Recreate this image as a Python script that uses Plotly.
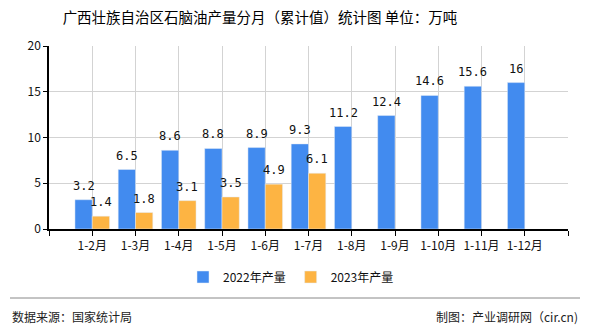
import plotly.graph_objects as go

categories = ["1-2月", "1-3月", "1-4月", "1-5月", "1-6月", "1-7月",
              "1-8月", "1-9月", "1-10月", "1-11月", "1-12月"]
values_2022 = [3.2, 6.5, 8.6, 8.8, 8.9, 9.3, 11.2, 12.4, 14.6, 15.6, 16]
values_2023 = [1.4, 1.8, 3.1, 3.5, 4.9, 6.1]
series_names = ["2022年产量", "2023年产量"]
y_ticks = [0, 5, 10, 15, 20]

title = "广西壮族自治区石脑油产量分月（累计值）统计图 单位：万吨"
source = "数据来源：国家统计局"
credit = "制图：产业调研网（cir.cn)"

W, H = 590, 330
L, R, T, B = 49, 568, 46, 229
pw, ph = R - L, B - T


def px(x):
    return (x - L) / pw


def py(y):
    return (B - y) / ph


pos = list(range(1, len(categories) + 1))
tickvals = list(range(0, len(categories) + 2))
ticktext = [""] + categories + [""]

blue = "#428bef"
orange = "#fdb443"
label_font = dict(family="DejaVu Sans Mono, monospace", size=12, color="#111")
bar_w = 0.4

fig = go.Figure()
fig.add_trace(go.Bar(
    x=pos, y=values_2022, name=series_names[0], marker_color=blue,
    width=bar_w, offset=-bar_w,
))
fig.add_trace(go.Bar(
    x=pos[:len(values_2023)], y=values_2023, name=series_names[1], marker_color=orange,
    width=bar_w, offset=0,
))

for xs, vals, off in [(pos, values_2022, -bar_w / 2), (pos, values_2023, bar_w / 2)]:
    for x, v in zip(xs, vals):
        fig.add_annotation(x=x + off, y=v, text=f"{v:g}", showarrow=False,
                           xanchor="center", yanchor="bottom", yshift=5,
                           font=label_font)

fig.update_layout(
    width=W, height=H,
    margin=dict(l=L, r=W - R, t=T, b=H - B, pad=0),
    paper_bgcolor="white", plot_bgcolor="white",
    barmode="overlay",
    font=dict(family="Noto Sans CJK SC, sans-serif", size=12, color="#111"),
    title=dict(text=title, x=260 / W, xanchor="center", y=1 - 18 / H, yanchor="middle",
               xref="container", yref="container",
               font=dict(family="Noto Sans CJK SC, sans-serif", size=14.5, color="#000")),
    legend=dict(orientation="h", x=px(291), xanchor="center", y=py(277), yanchor="middle",
                font=dict(size=12, color="#111"), itemwidth=30, traceorder="normal",
                bgcolor="rgba(0,0,0,0)"),
    xaxis=dict(range=[0, len(categories) + 1], tickmode="array", tickvals=tickvals,
               ticktext=ticktext, showgrid=True, gridcolor="#d3d3d3", gridwidth=1,
               showline=True, linecolor="#000", linewidth=1.5, ticks="outside",
               ticklen=5, tickcolor="#000", zeroline=False,
               tickfont=dict(size=12, color="#111")),
    yaxis=dict(range=[0, 20], tickmode="array", tickvals=y_ticks, showgrid=True,
               gridcolor="#d3d3d3", gridwidth=1, showline=True, linecolor="#000",
               linewidth=1.5, ticks="outside", ticklen=4, tickcolor="#000",
               zeroline=False, tickfont=dict(size=12, color="#111")),
    showlegend=True,
)

fig.add_shape(type="line", xref="paper", yref="paper",
              x0=px(10), x1=px(580), y0=py(298), y1=py(298),
              line=dict(color="#888", width=1))
fig.add_annotation(text=source, xref="paper", yref="paper", x=px(10), y=py(316),
                   xanchor="left", yanchor="middle", showarrow=False,
                   font=dict(size=12, color="#222"))
fig.add_annotation(text=credit, xref="paper", yref="paper", x=px(580), y=py(316),
                   xanchor="right", yanchor="middle", showarrow=False,
                   font=dict(size=12, color="#222"))

fig.write_html("out.html")
